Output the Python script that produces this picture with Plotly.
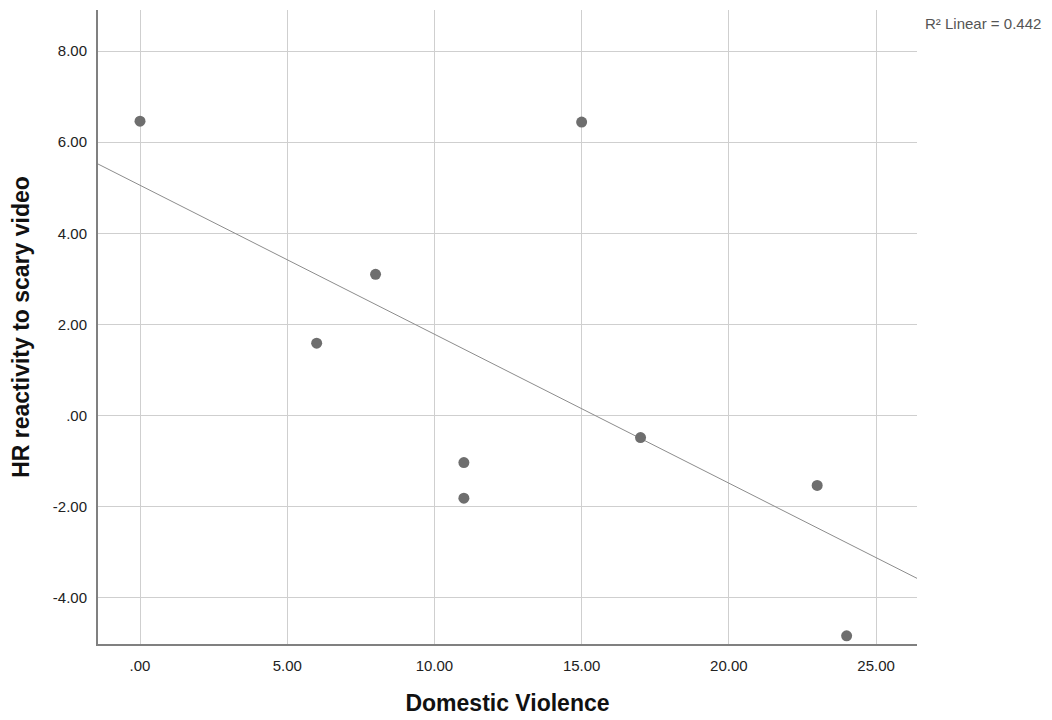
import numpy as np
import plotly.graph_objects as go

domestic_violence = [0, 15, 8, 6, 11, 11, 17, 23, 24]
hr_reactivity = [6.46, 6.44, 3.10, 1.59, -1.03, -1.81, -0.48, -1.53, -4.83]
x_ticks = [0, 5, 10, 15, 20, 25]
x_tick_labels = [".00", "5.00", "10.00", "15.00", "20.00", "25.00"]
y_ticks = [-4, -2, 0, 2, 4, 6, 8]
y_tick_labels = ["-4.00", "-2.00", ".00", "2.00", "4.00", "6.00", "8.00"]
r2_reported = 0.442

x_range = [-1.427, 26.39]
y_range = [-5.01, 8.90]

slope, intercept = np.polyfit(domestic_violence, hr_reactivity, 1)
fit_x = np.array(x_range)
fit_y = slope * fit_x + intercept

fig = go.Figure()
fig.add_trace(go.Scatter(x=fit_x, y=fit_y, mode="lines",
                         line=dict(color="#8c8c8c", width=1), hoverinfo="skip",
                         showlegend=False))
fig.add_trace(go.Scatter(x=domestic_violence, y=hr_reactivity, mode="markers",
                         marker=dict(color="#6e6e6e", size=11, line=dict(width=0)),
                         showlegend=False))

font = "Liberation Sans, Arial, sans-serif"
fig.update_layout(
    width=1052, height=720,
    margin=dict(l=98, r=135, t=10, b=76),
    plot_bgcolor="white", paper_bgcolor="white",
    font=dict(family=font, size=15, color="#222"),
    xaxis=dict(range=x_range, tickvals=x_ticks, ticktext=x_tick_labels,
               showgrid=True, gridcolor="#cfcfcf", gridwidth=1, automargin=False,
               zeroline=False, showline=True, linecolor="#808080", linewidth=2,
               ticks="", ticklabelstandoff=7,
               title=dict(text="<b>Domestic Violence</b>", font=dict(size=23, color="#111"), standoff=22)),
    yaxis=dict(range=y_range, tickvals=y_ticks, ticktext=y_tick_labels,
               showgrid=True, gridcolor="#cfcfcf", gridwidth=1, automargin=False,
               zeroline=False, showline=True, linecolor="#808080", linewidth=2,
               ticks="", ticklabelstandoff=6,
               title=dict(text="<b>HR reactivity to scary video</b>", font=dict(size=23, color="#111"), standoff=17)),
    annotations=[dict(text="R² Linear = %.3f" % r2_reported, xref="paper", yref="paper",
                      x=1.0, y=1.0, xanchor="left", yanchor="top", xshift=6, yshift=-3,
                      showarrow=False, font=dict(size=15, color="#555"))],
)

fig.write_html("out.html")
